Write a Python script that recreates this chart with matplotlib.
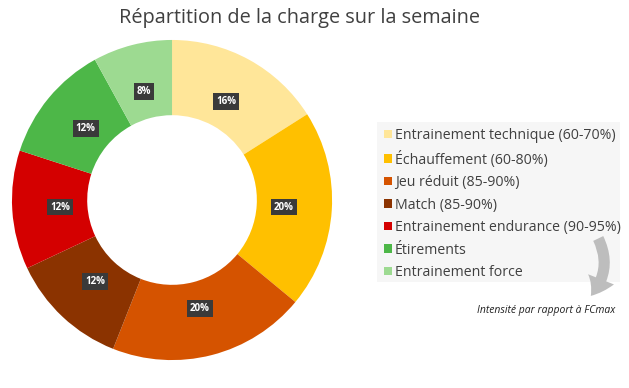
import matplotlib.pyplot as plt
from matplotlib.patches import FancyArrowPatch, Rectangle

plt.rcParams['font.family'] = ['Open Sans', 'DejaVu Sans']

categories = ['Entrainement technique (60-70%)', 'Échauffement (60-80%)',
              'Jeu réduit (85-90%)', 'Match (85-90%)',
              'Entrainement endurance (90-95%)', 'Étirements', 'Entrainement force']
values = [16, 20, 20, 12, 12, 12, 8]
colors = ['#FFE699', '#FFC000', '#D55300', '#8B3300', '#D40000', '#4DB748', '#9DDA91']

fig = plt.figure(figsize=(6.29, 3.88), dpi=100)
fig.patch.set_facecolor('white')

ax = fig.add_axes([0.019, 0.072, 0.509, 0.825])
wedges, texts, autotexts = ax.pie(
    values, colors=colors, startangle=90, counterclock=False,
    radius=1.0, wedgeprops=dict(width=0.47, linewidth=0),
    autopct='%d%%', pctdistance=0.70,
    textprops=dict(color='white', fontsize=7, fontweight='bold'))
for t in autotexts:
    t.set_bbox(dict(boxstyle='square,pad=0.3', facecolor='#3A3A3A', edgecolor='none'))
ax.set_aspect('equal')
ax.set_xlim(-1, 1)
ax.set_ylim(-1, 1)

fig.text(0.476, 0.953, 'Répartition de la charge sur la semaine',
         ha='center', va='center', fontsize=14.3, color='#404040')

# legend panel
fig.patches.append(Rectangle((377 / 629, 1 - 282 / 388), 243 / 629, 160 / 388,
                             transform=fig.transFigure, facecolor='#F6F6F6',
                             edgecolor='none', zorder=0))
leg = fig.legend(wedges, categories, loc='upper left',
                 bbox_to_anchor=(384 / 629, 1 - 128 / 388),
                 frameon=False, fontsize=10.2, handlelength=0.55, handleheight=0.55,
                 handletextpad=0.2, labelspacing=0.53, borderaxespad=0, borderpad=0)
for t in leg.get_texts():
    t.set_color('#404040')

arrow = FancyArrowPatch((597 / 629, 1 - 236 / 388), (589 / 629, 1 - 298 / 388),
                        transform=fig.transFigure, connectionstyle='arc3,rad=-0.35',
                        arrowstyle='simple,head_width=20,head_length=14,tail_width=8',
                        color='#BDBDBD', linewidth=0)
fig.patches.append(arrow)

fig.text(0.978, 1 - 311 / 388, 'Intensité par rapport à FCmax', ha='right', va='center',
         fontsize=7.5, style='italic', color='#202020')

fig.savefig('out.png', dpi=100)
